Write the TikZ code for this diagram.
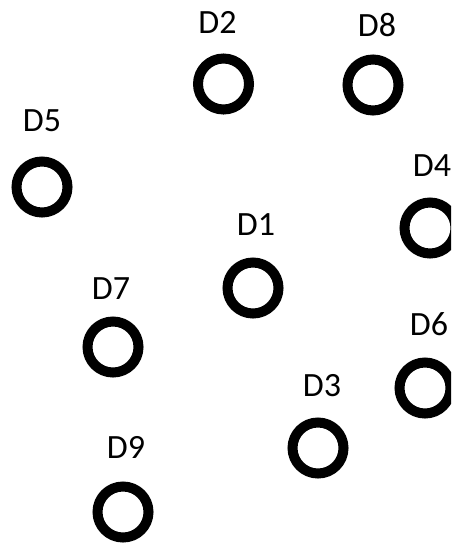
\documentclass[tikz,border=0pt]{standalone}
\usepackage{fontspec}
\setmainfont{Carlito}
\begin{document}
\begin{tikzpicture}[x=1pt,y=-1pt,font=\fontsize{34}{40}\selectfont]
			\tikzset{ring/.style={circle,draw=black,line width=10pt,minimum size=51pt,inner sep=0pt},
				tag/.style={inner sep=0pt,anchor=center}}
			\clip (0,0) rectangle (451,543);
			\useasboundingbox (0,0) rectangle (451,543);
			% rings
			\node[ring] (d1) at (253,288) {};
			\node[ring] (d2) at (223.5,84) {};
			\node[ring] (d3) at (318,448) {};
			\node[ring] (d4) at (430,228) {};
			\node[ring] (d5) at (42,187) {};
			\node[ring] (d6) at (425,388) {};
			\node[ring] (d7) at (113,347) {};
			\node[ring] (d8) at (373,85) {};
			\node[ring] (d9) at (123,512) {};
			% labels
			\node[tag] (l1) at (256,225) {D1};
			\node[tag] (l2) at (217.5,22) {D2};
			\node[tag] (l3) at (322,385.5) {D3};
			\node[tag] (l4) at (432,165.5) {D4};
			\node[tag] (l5) at (42,121) {D5};
			\node[tag] (l6) at (429,324.5) {D6};
			\node[tag] (l7) at (111,288.5) {D7};
			\node[tag] (l8) at (377,25.5) {D8};
			\node[tag] (l9) at (126,447) {D9};
		\end{tikzpicture}
\end{document}
